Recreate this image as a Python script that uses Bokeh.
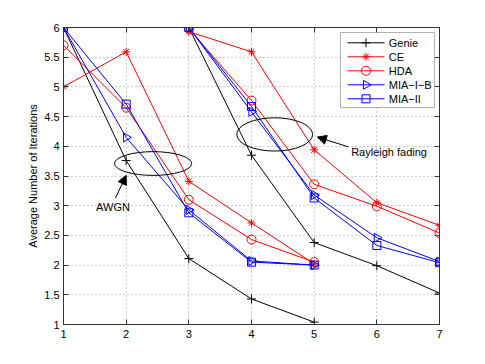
import numpy as np
from bokeh.plotting import figure
from bokeh.models import (LinearAxis, FixedTicker, Label, Arrow, NormalHead,
                          Range1d, BoxAnnotation)
from bokeh.embed import file_html
from bokeh.resources import INLINE

# ---------------- data ----------------
x_awgn = [1, 2, 3, 4, 5]
x_ray = [3, 4, 5, 6, 7]

genie_awgn = [6.0, 3.76, 2.11, 1.43, 1.04]
genie_ray = [6.0, 3.85, 2.38, 1.99, 1.53]
ce_awgn = [5.0, 5.59, 3.41, 2.71, 2.02]
ce_ray = [5.93, 5.59, 3.94, 3.05, 2.67]
hda_awgn = [5.7, 4.65, 3.10, 2.43, 2.05]
hda_ray = [5.98, 4.77, 3.36, 2.99, 2.54]
mia1_awgn = [6.0, 4.15, 2.93, 2.07, 2.0]
mia1_ray = [6.0, 4.58, 3.18, 2.46, 2.06]
mia2_awgn = [6.0, 4.71, 2.88, 2.05, 2.0]
mia2_ray = [6.0, 4.67, 3.13, 2.33, 2.04]

series_names = ["Genie", "CE", "HDA", "MIA\u2212I\u2212B", "MIA\u2212II"]
x_ticks = [1, 2, 3, 4, 5, 6, 7]
y_ticks = [1, 1.5, 2, 2.5, 3, 3.5, 4, 4.5, 5, 5.5, 6]
X_MIN, X_MAX, Y_MIN, Y_MAX = 1, 7, 1, 6

FONT = "Liberation Sans"
W, H = 480, 360
BL, BR, BT, BB = 63, 41, 27, 36
FRAME_W = W - BL - BR
FRAME_H = H - BT - BB

def px_x(px):   # pixel offset from frame left -> data x
    return X_MIN + px * (X_MAX - X_MIN) / FRAME_W

def px_y(px):   # pixel offset from frame top -> data y
    return Y_MAX - px * (Y_MAX - Y_MIN) / FRAME_H

p = figure(width=W, height=H, x_range=Range1d(X_MIN, X_MAX),
           y_range=Range1d(Y_MIN, Y_MAX),
           output_backend="svg", toolbar_location=None,
           min_border_left=BL, min_border_right=BR, min_border_top=BT,
           min_border_bottom=BB)
p.background_fill_color = "white"
p.border_fill_color = "white"
p.outline_line_color = "#333333"
p.outline_line_width = 1

# grid
for g in (p.xgrid, p.ygrid):
    g.grid_line_color = "#9a9a9a"
    g.grid_line_dash = "1 3"
    g.grid_line_width = 1
p.xgrid.ticker = FixedTicker(ticks=x_ticks)
p.ygrid.ticker = FixedTicker(ticks=y_ticks)

def style_axis(ax):
    ax.axis_line_color = "#333333"
    ax.major_tick_line_color = "#333333"
    ax.major_tick_in = 5
    ax.major_tick_out = 0
    ax.minor_tick_line_color = None
    ax.major_label_text_font = FONT
    ax.major_label_text_font_size = "11px"
    ax.major_label_text_color = "black"
    ax.axis_label_text_font = FONT
    ax.axis_label_text_font_size = "11px"
    ax.axis_label_text_font_style = "normal"
    ax.axis_label_text_color = "black"

p.xaxis.ticker = FixedTicker(ticks=x_ticks)
p.yaxis.ticker = FixedTicker(ticks=y_ticks)
style_axis(p.xaxis[0])
style_axis(p.yaxis[0])
p.xaxis.major_label_standoff = 5
p.yaxis.major_label_standoff = 4
p.yaxis.axis_label = "Average Number of Iterations"
p.yaxis.axis_label_standoff = 2

top_ax = LinearAxis(ticker=FixedTicker(ticks=x_ticks),
                    major_label_overrides={t: "" for t in x_ticks})
style_axis(top_ax)
top_ax.major_label_standoff = 0
p.add_layout(top_ax, "above")
right_ax = LinearAxis(ticker=FixedTicker(ticks=y_ticks),
                      major_label_overrides={t: "" for t in y_ticks})
style_axis(right_ax)
right_ax.major_label_standoff = 0
p.add_layout(right_ax, "right")

# ---------------- series ----------------
styles = [
    ("black", "cross", 9, genie_awgn, genie_ray),
    ("red", "asterisk", 8, ce_awgn, ce_ray),
    ("red", "circle", 9, hda_awgn, hda_ray),
    ("blue", "triangle", 9, mia1_awgn, mia1_ray),
    ("blue", "square", 8, mia2_awgn, mia2_ray),
]

def marker_kw(marker, size, color):
    kw = dict(marker=marker, size=size, line_color=color, fill_color=None,
              line_width=1)
    if marker == "triangle":
        kw["angle"] = -np.pi / 2   # right-pointing triangle
    return kw

for color, marker, size, ya, yr in styles:
    for xs, ys in ((x_awgn, ya), (x_ray, yr)):
        p.line(xs, ys, line_color=color, line_width=1)
        p.scatter(xs, ys, **marker_kw(marker, size, color))

# ---------------- legend (drawn by hand so the triangle can point right) ----
LEG_L, LEG_R, LEG_T, LEG_B = 277, 371, 5, 80      # px relative to frame
ROW0, ROW_H = 15.3, 14                             # first row centre, spacing
LINE_L, LINE_R, TEXT_L = 284, 321, 325.3

p.add_layout(BoxAnnotation(left=px_x(LEG_L), right=px_x(LEG_R),
                           top=px_y(LEG_T), bottom=px_y(LEG_B),
                           fill_color="white", fill_alpha=1.0,
                           line_color="black", line_width=1))
for i, (name, (color, marker, size, _, _)) in enumerate(zip(series_names, styles)):
    yy = px_y(ROW0 + i * ROW_H)
    p.segment(x0=[px_x(LINE_L)], y0=[yy], x1=[px_x(LINE_R)], y1=[yy],
              line_color=color, line_width=1, level="overlay")
    p.scatter([px_x((LINE_L + LINE_R) / 2)], [yy], level="overlay",
              **marker_kw(marker, size, color))
    p.add_layout(Label(x=px_x(TEXT_L), y=yy, text=name, text_font=FONT,
                       text_font_size="11px", text_align="left",
                       text_baseline="middle", text_color="black",
                       level="overlay"))

# ---------------- annotations ----------------
p.ellipse(x=[2.43], y=[3.71], width=[1.23], height=[0.40],
          fill_color=None, line_color="black", line_width=1)
p.ellipse(x=[4.37], y=[4.20], width=[1.21], height=[0.56],
          fill_color=None, line_color="black", line_width=1)

p.add_layout(Arrow(x_start=1.83, y_start=3.13, x_end=2.0, y_end=3.51,
                   line_color="black", line_width=1,
                   end=NormalHead(size=9, fill_color="black", line_color="black")))
p.add_layout(Arrow(x_start=5.55, y_start=3.99, x_end=5.05, y_end=4.155,
                   line_color="black", line_width=1,
                   end=NormalHead(size=9, fill_color="black", line_color="black")))

p.add_layout(Label(x=1.79, y=2.98, text="AWGN", text_font=FONT,
                   text_font_size="11px", text_align="center",
                   text_baseline="middle", text_color="black"))
p.add_layout(Label(x=5.59, y=3.90, text="Rayleigh fading", text_font=FONT,
                   text_font_size="11px", text_align="left",
                   text_baseline="middle", text_color="black"))

# x-axis label with subscripts: E_b/N_0 dB
parts = [("E", 11, 0), ("b", 8, -3), ("/N", 11, 0), ("0", 8, -3), (" dB", 11, 0)]
widths = [7.34, 4.45, 11.0, 4.45, 16.5]
total = sum(widths)
off = -total / 2
for (txt, fs, dy), w in zip(parts, widths):
    p.add_layout(Label(x=4, y=1, x_offset=off, y_offset=-27 + dy, text=txt,
                       text_font=FONT, text_font_size=f"{fs}px",
                       text_align="left", text_baseline="alphabetic",
                       text_color="black"))
    off += w

open("out.html", "w").write(file_html(p, INLINE))
